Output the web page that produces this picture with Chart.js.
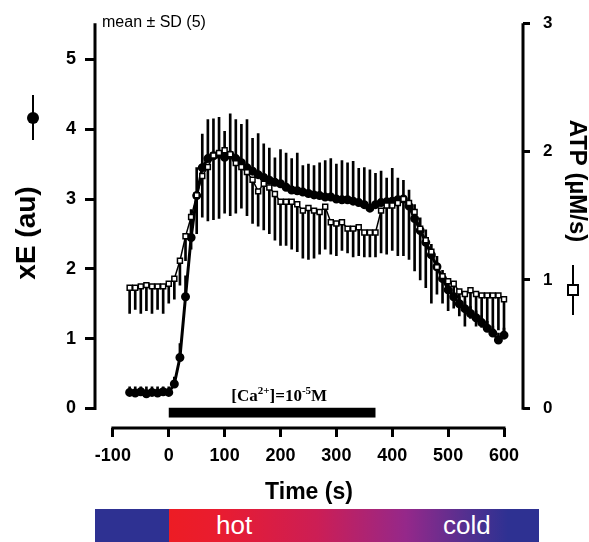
<!DOCTYPE html>
<html>
<head>
<meta charset="utf-8">
<script src="https://cdn.jsdelivr.net/npm/chart.js@4.4.1/dist/chart.umd.min.js"></script>
<style>
  body { margin: 0; background: #fff; }
  #wrap { position: relative; width: 589px; height: 542px; }
  #heatBar {
    position: absolute; left: 95px; top: 509px; width: 444px; height: 33px;
    background: linear-gradient(to right, #2e3192 0%, #2e3192 16.7%, #ed1c24 16.7%, #e91c30 28%,
      #cc1e55 50%, #95288a 70%, #523090 84%, #2e3192 93%, #2e3192 100%);
    font-family: "Liberation Sans", Arial, sans-serif; font-size: 26px; color: #fff;
  }
  #heatBar span { position: absolute; top: 0; line-height: 33px; }
</style>
</head>
<body>
<div id="wrap">
  <canvas id="caChart" width="589" height="542"></canvas>
  <div id="heatBar"><span style="left:121px">hot</span><span style="left:348px">cold</span></div>
</div>
<script type="text/javascript">
// time (s)
const time = [-70, -60, -50, -40, -30, -20, -10, 0,
  10, 20, 30, 40, 50, 60, 70, 80, 90, 100,
  110, 120, 130, 140, 150, 160, 170, 180, 190, 200,
  210, 220, 230, 240, 250, 260, 270, 280, 290, 300,
  310, 320, 330, 340, 350, 360, 370, 380, 390, 400,
  410, 420, 430, 440, 450, 460, 470, 480, 490, 500,
  510, 520, 530, 540, 550, 560, 570, 580, 590, 600];

// xE (au), filled circles, SD drawn upward
const xeMean = [0.23, 0.22, 0.24, 0.21, 0.23, 0.22, 0.24, 0.23,
  0.35, 0.73, 1.6, 2.45, 3.05, 3.45, 3.58, 3.62, 3.64, 3.6,
  3.63, 3.58, 3.52, 3.45, 3.4, 3.35, 3.31, 3.27, 3.24, 3.22,
  3.17, 3.13, 3.12, 3.1, 3.08, 3.06, 3.05, 3.03, 3.03, 3.0,
  2.99, 2.99, 2.97, 2.95, 2.92, 2.87, 2.92, 2.95, 2.96, 2.97,
  2.99, 3.0, 2.9, 2.72, 2.55, 2.38, 2.2, 2.03, 1.86, 1.7,
  1.6, 1.5, 1.43, 1.36, 1.3, 1.23, 1.15, 1.08, 0.98, 1.05];
const xeSd = [0.08, 0.09, 0.07, 0.1, 0.08, 0.09, 0.07, 0.08,
  0.1, 0.2, 0.3, 0.4, 0.4, 0.48, 0.56, 0.53, 0.53, 0.37,
  0.59, 0.56, 0.55, 0.69, 0.47, 0.59, 0.48, 0.46, 0.35, 0.49,
  0.49, 0.45, 0.54, 0.38, 0.42, 0.42, 0.47, 0.52, 0.55, 0.5,
  0.56, 0.53, 0.57, 0.49, 0.53, 0.55, 0.45, 0.45, 0.34, 0.47,
  0.31, 0.27, 0.23, 0.2, 0.18, 0.18, 0.15, 0.15, 0.12, 0.12,
  0.1, 0.1, 0.1, 0.1, 0.1, 0.1, 0.1, 0.1, 0.1, 0.1];

// ATP (µM/s), open squares, SD drawn downward
const atpMean = [0.94, 0.94, 0.95, 0.96, 0.95, 0.95, 0.95, 0.97,
  1.01, 1.15, 1.34, 1.49, 1.66, 1.81, 1.88, 1.97, 1.99, 2.01,
  1.98, 1.91, 1.88, 1.84, 1.78, 1.69, 1.75, 1.72, 1.67, 1.61,
  1.61, 1.61, 1.59, 1.54, 1.56, 1.54, 1.53, 1.57, 1.45, 1.44,
  1.45, 1.40, 1.40, 1.41, 1.37, 1.37, 1.37, 1.54, 1.58, 1.58,
  1.60, 1.63, 1.60, 1.53, 1.40, 1.31, 1.22, 1.10, 1.03, 0.99,
  0.97, 0.91, 0.89, 0.92, 0.89, 0.88, 0.88, 0.88, 0.88, 0.85];
const atpSd = [0.20, 0.17, 0.21, 0.20, 0.21, 0.18, 0.21, 0.15,
  0.16, 0.19, 0.19, 0.25, 0.30, 0.32, 0.42, 0.50, 0.51, 0.49,
  0.48, 0.39, 0.32, 0.34, 0.34, 0.27, 0.36, 0.36, 0.36, 0.34,
  0.34, 0.37, 0.37, 0.37, 0.40, 0.37, 0.33, 0.33, 0.25, 0.25,
  0.22, 0.19, 0.22, 0.22, 0.19, 0.19, 0.19, 0.33, 0.38, 0.35,
  0.41, 0.44, 0.44, 0.46, 0.40, 0.37, 0.40, 0.21, 0.21, 0.23,
  0.19, 0.19, 0.25, 0.22, 0.25, 0.25, 0.25, 0.27, 0.27, 0.25];

const xTicks = [-100, 0, 100, 200, 300, 400, 500, 600];
const yTicks = [0, 1, 2, 3, 4, 5];
const y2Ticks = [0, 1, 2, 3];
const caStart = 0, caEnd = 370;   // [Ca2+] application (s)

const SANS = '"Liberation Sans", Arial, sans-serif';

const decorations = {
  id: 'decorations',
  beforeDatasetsDraw(chart) {
    const {ctx, chartArea: a, scales: {x, y, y2}} = chart;
    ctx.save();
    ctx.strokeStyle = '#000';
    ctx.lineWidth = 3;
    ctx.beginPath();
    ctx.moveTo(a.left, a.top); ctx.lineTo(a.left, y.getPixelForValue(0) + 1.5);
    ctx.moveTo(a.right, a.top); ctx.lineTo(a.right, y2.getPixelForValue(0) + 1.5);
    ctx.moveTo(x.getPixelForValue(-100) - 1.5, a.bottom); ctx.lineTo(x.getPixelForValue(600) + 1.5, a.bottom);
    ctx.stroke();
    ctx.restore();
  },
  afterDraw(chart) {
    const {ctx, chartArea: a, scales: {x, y}} = chart;
    ctx.save();
    ctx.fillStyle = '#000';
    ctx.strokeStyle = '#000';

    // [Ca2+] bar
    const bx0 = x.getPixelForValue(caStart), bx1 = x.getPixelForValue(caEnd);
    const by0 = y.getPixelForValue(0.01), by1 = y.getPixelForValue(-0.13);
    ctx.fillRect(bx0, by0, bx1 - bx0, by1 - by0);

    // [Ca2+]=10-5M label
    let px = x.getPixelForValue(112);
    const base = y.getPixelForValue(0.11);
    ctx.textBaseline = 'alphabetic';
    ctx.textAlign = 'left';
    const big = 'bold 17px "Liberation Serif", "Times New Roman", serif';
    const small = 'bold 11px "Liberation Serif", "Times New Roman", serif';
    const parts = [['[Ca', big, 0], ['2+', small, -7], [']=10', big, 0], ['-5', small, -7], ['M', big, 0]];
    parts.forEach(([t, f, dy]) => {
      ctx.font = f;
      ctx.fillText(t, px, base + dy);
      px += ctx.measureText(t).width;
    });

    // note
    ctx.font = '16px ' + SANS;
    ctx.textBaseline = 'middle';
    ctx.fillText('mean \u00b1 SD (5)', 102, 23);

    // left axis title + symbol
    ctx.save();
    ctx.translate(27, 233);
    ctx.rotate(-Math.PI / 2);
    ctx.font = 'bold 28px ' + SANS;
    ctx.textAlign = 'center';
    ctx.fillText('xE (au)', 0, 0);
    ctx.restore();
    ctx.lineWidth = 2;
    ctx.beginPath(); ctx.moveTo(33, 95); ctx.lineTo(33, 140); ctx.stroke();
    ctx.beginPath(); ctx.arc(33, 118, 6, 0, Math.PI * 2); ctx.fill();

    // right axis title + symbol
    ctx.save();
    ctx.translate(577, 181);
    ctx.rotate(Math.PI / 2);
    ctx.font = 'bold 24px ' + SANS;
    ctx.textAlign = 'center';
    ctx.fillText('ATP (\u00b5M/s)', 0, 0);
    ctx.restore();
    ctx.beginPath(); ctx.moveTo(573, 265); ctx.lineTo(573, 315); ctx.stroke();
    ctx.fillStyle = '#fff';
    ctx.fillRect(568, 285, 10, 10);
    ctx.strokeRect(568, 285, 10, 10);
    ctx.restore();
  }
};

const setTicks = list => scale => { scale.ticks = list.map(v => ({value: v})); };

new Chart('caChart', {
  type: 'line',
  data: {
    datasets: [
      {
        type: 'line',
        label: 'ATP',
        yAxisID: 'y2',
        data: time.map((t, i) => ({x: t, y: atpMean[i]})),
        borderColor: '#000',
        borderWidth: 1.5,
        pointStyle: 'rect',
        pointRadius: 3.5,
        pointBackgroundColor: '#fff',
        pointBorderColor: '#000',
        pointBorderWidth: 1.5,
        order: 0
      },
      {
        type: 'line',
        label: 'xE',
        yAxisID: 'y',
        data: time.map((t, i) => ({x: t, y: xeMean[i]})),
        borderColor: '#000',
        borderWidth: 3,
        pointRadius: 3,
        pointBackgroundColor: '#000',
        pointBorderColor: '#000',
        order: 1
      },
      {
        type: 'bar',
        label: 'xE SD',
        yAxisID: 'y',
        data: time.map((t, i) => ({x: t, y: [xeMean[i], xeMean[i] + xeSd[i]]})),
        backgroundColor: '#000',
        barThickness: 2,
        grouped: false,
        order: 2
      },
      {
        type: 'bar',
        label: 'ATP SD',
        yAxisID: 'y2',
        data: time.map((t, i) => ({x: t, y: [atpMean[i] - atpSd[i], atpMean[i]]})),
        backgroundColor: '#000',
        barThickness: 2,
        grouped: false,
        order: 3
      }
    ]
  },
  options: {
    responsive: false,
    animation: false,
    devicePixelRatio: 1,
    layout: { padding: { top: 15, left: 0, right: 0, bottom: 0 } },
    plugins: { legend: { display: false }, tooltip: { enabled: false } },
    scales: {
      x: {
        type: 'linear',
        min: -132,
        max: 634,
        offset: false,
        afterBuildTicks: setTicks(xTicks),
        afterFit: s => { s.height = 114; },
        border: { display: false },
        grid: { offset: false, drawOnChartArea: false, drawTicks: true, tickLength: 9, lineWidth: 3, color: '#000' },
        ticks: { autoSkip: false, maxRotation: 0, padding: 8, color: '#000', font: { family: SANS, size: 18, weight: 'bold' } },
        title: { display: true, text: 'Time (s)', color: '#000', padding: { top: 0, bottom: 36 }, font: { family: SANS, size: 23, weight: 'bold' } }
      },
      y: {
        position: 'left',
        min: -0.28,
        max: 5.52,
        afterBuildTicks: setTicks(yTicks),
        afterFit: s => { s.width = 95; },
        border: { display: false },
        grid: { drawOnChartArea: false, drawTicks: true, tickLength: 10, lineWidth: 3, color: '#000' },
        ticks: { autoSkip: false, padding: 9, color: '#000', font: { family: SANS, size: 18, weight: 'bold' } }
      },
      y2: {
        position: 'right',
        min: -0.153,
        max: 3.0,
        afterBuildTicks: setTicks(y2Ticks),
        afterFit: s => { s.width = 66; },
        border: { display: false },
        grid: { drawOnChartArea: false, drawTicks: true, tickLength: 7, lineWidth: 3, color: '#000' },
        ticks: { autoSkip: false, padding: 13, color: '#000', font: { family: SANS, size: 17, weight: 'bold' } }
      }
    }
  },
  plugins: [decorations]
});
</script>
</body>
</html>
